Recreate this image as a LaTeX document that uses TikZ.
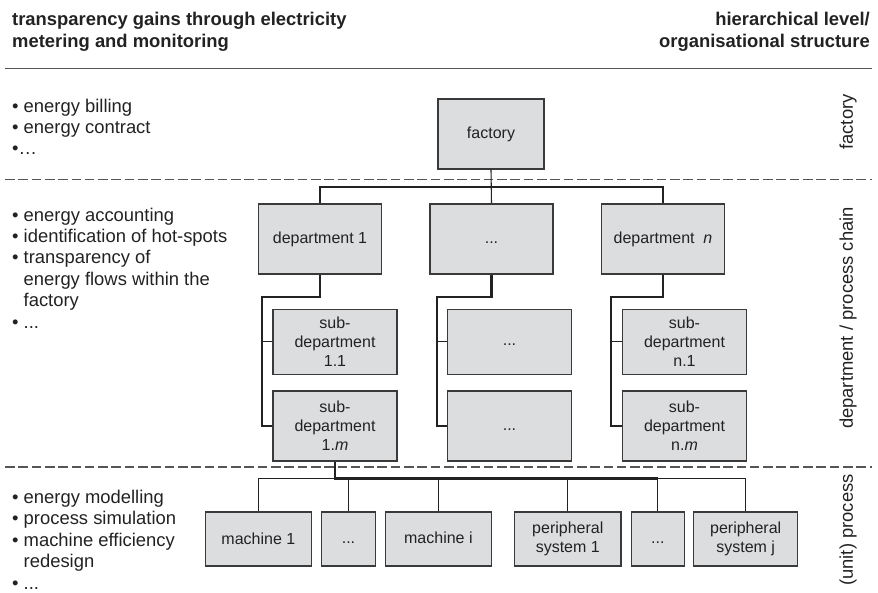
\documentclass[tikz,border=0pt]{standalone}
\usepackage{fontspec}
\setmainfont{Liberation Sans}
\definecolor{boxfill}{HTML}{DCDDDF}
\definecolor{boxline}{HTML}{3A3A3A}
\definecolor{wire}{HTML}{222222}
\definecolor{rulegray}{HTML}{555555}
\definecolor{ink}{HTML}{222222}
\newcommand\bxfont{\fontsize{16}{19}\selectfont}
\newcommand\lbfont{\fontsize{18.4}{21}\selectfont}
% ellipsis placeholder that sits on the text baseline like the other labels
\newcommand\gap{\vphantom{dp}...}
\begin{document}
\begin{tikzpicture}[x=1pt,y=-1pt,
  box/.style={draw=boxline, fill=boxfill, line width=1.2pt, inner sep=0pt,
              align=center, font=\bxfont, text=ink},
  deptbox/.style={box, minimum width=123pt, minimum height=70pt},
  subtop/.style={box, minimum width=124pt, minimum height=65pt},
  subbot/.style={box, minimum width=124pt, minimum height=70pt},
  unitbox/.style={box, minimum height=54pt},
  wirethin/.style={draw=wire, line width=1.1pt},
  wirethick/.style={draw=wire, line width=2.2pt},
  sep/.style={draw=rulegray, line width=1.3pt, dash pattern=on 9.6pt off 3.7pt},
  txt/.style={anchor=base west, inner sep=0pt, font=\lbfont, text=ink},
  head/.style={inner sep=0pt, font=\lbfont\bfseries, text=ink},
  level/.style={rotate=90, inner sep=0pt, font=\lbfont, text=ink}]
\useasboundingbox (0,0) rectangle (878,592);

% headings
\node[head, anchor=base west] (hl1) at (12,25) {transparency gains through electricity};
\node[head, anchor=base west] (hl2) at (12,47) {metering and monitoring};
\node[head, anchor=base east] (hr1) at (870,25) {hierarchical level/};
\node[head, anchor=base east] (hr2) at (870,47) {organisational structure};

% rule under the headings and level separators
\draw[rulegray, line width=1.5pt] (5,68.3) -- (872,68.3);
\draw[sep] (5,179.5) -- (872,179.5);
\draw[sep] (5,467) -- (872,467);

% level names
\node[level] (lvf) at (848,122) {factory};
\node[level] (lvd) at (848,318) {department / process chain};
\node[level] (lvp) at (848,530) {(unit) process};

% transparency gains per level
\node[txt] (a1) at (12,112.5) {\textbullet\ energy billing};
\node[txt] (a2) at (12,133.5) {\textbullet\ energy contract};
\node[txt] (a3) at (12,154.5) {\textbullet…};

\node[txt] (b1) at (12,221) {\textbullet\ energy accounting};
\node[txt] (b2) at (12,242.4) {\textbullet\ identification of hot-spots};
\node[txt] (b3) at (12,263.8) {\textbullet\ transparency of};
\node[txt] (b4) at (23.5,285.2) {energy flows within the};
\node[txt] (b5) at (23.5,306.6) {factory};
\node[txt] (b6) at (12,328) {\textbullet\ ...};

\node[txt] (c1) at (12,503) {\textbullet\ energy modelling};
\node[txt] (c2) at (12,524.5) {\textbullet\ process simulation};
\node[txt] (c3) at (12,546) {\textbullet\ machine efficiency};
\node[txt] (c4) at (23.5,567.5) {redesign};
\node[txt] (c5) at (12,589) {\textbullet\ ...};

% organisational tree
\node[box, minimum width=106pt, minimum height=70pt] (factory) at (491,134) {factory};

\node[deptbox] (dept1) at (320,239) {department 1};
\node[deptbox] (deptdots) at (491.5,239) {\gap};
\node[deptbox] (deptn) at (663,239) {department\hspace{0.55em}\textit{n}};

\node[subtop] (sub11) at (335,341.8) {sub-\\department\\1.1};
\node[subbot] (sub1m) at (335,426) {sub-\\department\\1.\textit{m}};
\node[subtop] (subd1) at (509.5,341.8) {\gap};
\node[subbot] (subd2) at (509.5,426) {\gap};
\node[subtop] (subn1) at (684.5,341.8) {sub-\\department\\n.1};
\node[subbot] (subnm) at (684.5,426) {sub-\\department\\n.\textit{m}};

\node[unitbox, minimum width=106.5pt] (m1) at (258.4,539) {machine 1};
\node[unitbox, minimum width=53.5pt] (d1) at (348.5,539) {\gap};
\node[unitbox, minimum width=106.5pt] (mi) at (438.4,539) {\vphantom{p}machine i};
\node[unitbox, minimum width=106.5pt] (p1) at (567.8,539) {peripheral\\system 1};
\node[unitbox, minimum width=53.5pt] (d2) at (657.9,539) {\gap};
\node[unitbox, minimum width=104pt] (pj) at (745.7,539) {peripheral\\system j};

% factory to departments
\coordinate (bus) at (491,187);
\draw[wirethin] (factory.south) -- (deptdots.north);
\draw[wirethin] (dept1.north) |- (bus) -| (deptn.north);

% departments to sub-departments
\coordinate (j1) at (262,297);
\coordinate (j2) at (437,297);
\coordinate (j3) at (611,297);
\draw[wirethick] (dept1.south) |- (j1) -- (j1 |- sub11.west);
\draw[wirethin] (j1 |- sub11.west) -- (sub11.west);
\draw[wirethin] (j1 |- sub11.west) |- (sub1m.west);
\draw[wirethick] (deptdots.south) |- (j2) -- (j2 |- subd1.west);
\draw[wirethin] (j2 |- subd1.west) -- (subd1.west);
\draw[wirethin] (j2 |- subd1.west) |- (subd2.west);
\draw[wirethick] (deptn.south) |- (j3) -- (j3 |- subn1.west);
\draw[wirethin] (j3 |- subn1.west) -- (subn1.west);
\draw[wirethin] (j3 |- subn1.west) |- (subnm.west);

% sub-department to machines and peripheral systems
\coordinate (busb) at (0,478.4);
\draw[wirethick] (sub1m.south) |- (d2.north |- busb);
\draw[wirethin] (m1.north) |- (sub1m.south |- busb);
\draw[wirethin] (d2.north |- busb) -| (pj.north);
\foreach \u in {d1,mi,p1,d2}
  \draw[wirethin] (\u.north) -- (\u.north |- busb);
\end{tikzpicture}
\end{document}
